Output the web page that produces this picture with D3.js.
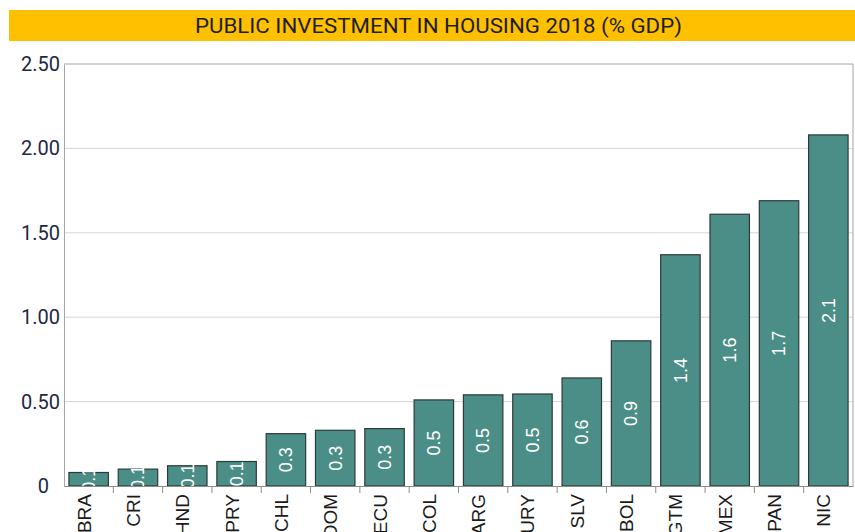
<!DOCTYPE html>
<html>
<head>
<meta charset="utf-8">
<script src="https://cdn.jsdelivr.net/npm/d3@7"></script>
<style>
  html, body { margin: 0; padding: 0; background: #ffffff; }
  svg { display: block; }
</style>
</head>
<body>
<svg id="chart" width="855" height="532"></svg>
<script>
// Public investment in housing, 2018, as a share of GDP
const titleText = "PUBLIC INVESTMENT IN HOUSING 2018 (% GDP)";
const countries = ["BRA", "CRI", "HND", "PRY", "CHL", "DOM", "ECU", "COL", "ARG", "URY", "SLV", "BOL", "GTM", "MEX", "PAN", "NIC"];
const investment = [0.08, 0.10, 0.12, 0.145, 0.31, 0.33, 0.34, 0.51, 0.54, 0.545, 0.64, 0.86, 1.37, 1.61, 1.69, 2.08];
const yTicks = [0, 0.5, 1.0, 1.5, 2.0, 2.5];
const yTickLabels = ["0", "0.50", "1.00", "1.50", "2.00", "2.50"];

const svg = d3.select("#chart");
const W = 855, H = 532;
const plot = { left: 64, right: 853, top: 64, bottom: 486 };

// Title banner
svg.append("rect")
  .attr("x", 9).attr("y", 10)
  .attr("width", W - 9).attr("height", 31)
  .attr("fill", "#ffc000");
svg.append("text")
  .attr("x", 195).attr("y", 33)
  .attr("textLength", 487)
  .attr("lengthAdjust", "spacingAndGlyphs")
  .attr("font-family", "Roboto, 'Open Sans', sans-serif")
  .attr("font-size", 21)
  .attr("fill", "#1e1e1e")
  .text(titleText);

const x = d3.scaleBand()
  .domain(countries)
  .range([plot.left, plot.right])
  .paddingInner(0.2)
  .paddingOuter(0.1);

const y = d3.scaleLinear()
  .domain([0, 2.5])
  .range([plot.bottom, plot.top]);

// Horizontal gridlines
svg.append("g")
  .selectAll("line")
  .data(yTicks.slice(1, -1))
  .join("line")
  .attr("x1", plot.left).attr("x2", plot.right)
  .attr("y1", d => y(d)).attr("y2", d => y(d))
  .attr("stroke", "#d6d6d6")
  .attr("stroke-width", 1);

// Plot frame (top and right)
svg.append("path")
  .attr("d", `M${plot.left},${y(2.5)}H${plot.right}V${plot.bottom}`)
  .attr("fill", "none")
  .attr("stroke", "#a6a6a6")
  .attr("stroke-width", 1);

// Bars
svg.append("g")
  .selectAll("rect")
  .data(countries)
  .join("rect")
  .attr("x", d => x(d))
  .attr("y", (d, i) => y(investment[i]))
  .attr("width", x.bandwidth())
  .attr("height", (d, i) => y(0) - y(investment[i]))
  .attr("fill", "#4b8e87")
  .attr("stroke", "#2c3a38")
  .attr("stroke-width", 1.2);

// Value labels inside bars
const fmt = d3.format(".1f");
svg.append("g")
  .selectAll("text")
  .data(countries)
  .join("text")
  .attr("transform", (d, i) => {
    const cx = x(d) + x.bandwidth() / 2;
    const cy = (y(investment[i]) + y(0)) / 2;
    return `translate(${cx},${cy}) rotate(-90)`;
  })
  .attr("dy", "0.35em")
  .attr("text-anchor", "middle")
  .attr("font-family", "'Liberation Sans', Arial, sans-serif")
  .attr("font-size", 18)
  .attr("fill", "#ffffff")
  .text((d, i) => fmt(investment[i]));

// Y axis
const yAxis = svg.append("g")
  .attr("transform", `translate(${plot.left},0)`)
  .call(d3.axisLeft(y).tickValues(yTicks).tickSize(0).tickPadding(4)
    .tickFormat((d, i) => yTickLabels[i]));
yAxis.select(".domain").attr("stroke", "#a6a6a6");
yAxis.selectAll("text")
  .attr("font-family", "Roboto, sans-serif")
  .attr("font-size", 20)
  .attr("fill", "#222842")
  .attr("dx", d => d === 0 ? -11 : 0);

// X axis
const xAxis = svg.append("g")
  .attr("transform", `translate(0,${plot.bottom})`)
  .call(d3.axisBottom(x).tickSize(0).tickFormat(""));
xAxis.select(".domain").attr("stroke", "#8c8c8c").attr("stroke-width", 1.2);
xAxis.selectAll(".tick").remove();

// Tick marks on category boundaries
const step = x.step();
svg.append("g")
  .selectAll("line")
  .data(countries.slice(1))
  .join("line")
  .attr("x1", d => x(d) - step * 0.1)
  .attr("x2", d => x(d) - step * 0.1)
  .attr("y1", plot.bottom).attr("y2", plot.bottom + 7)
  .attr("stroke", "#8c8c8c")
  .attr("stroke-width", 1);

// Category labels, rotated
svg.append("g")
  .selectAll("text")
  .data(countries)
  .join("text")
  .attr("transform", d => `translate(${x(d) + x.bandwidth() / 2 + 2},${plot.bottom + 8}) rotate(-90)`)
  .attr("text-anchor", "end")
  .attr("font-family", "'Liberation Sans', Arial, sans-serif")
  .attr("font-size", 19)
  .attr("fill", "#1a1a1a")
  .text(d => d);
</script>
</body>
</html>
